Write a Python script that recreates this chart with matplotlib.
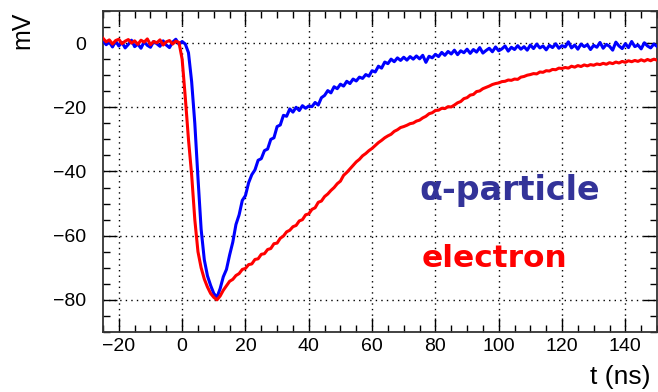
import numpy as np
import matplotlib
matplotlib.use("Agg")
import matplotlib.pyplot as plt
from matplotlib.ticker import MultipleLocator

# time axis, 1 ns samples
t_ns = np.arange(-25, 151)

# alpha-particle pulse (mV)
alpha_mv = [
    0.8, -0.5, 0.3, -1.2, 0.6, -0.9, 0.2, -1.5, -0.4, 0.9, -1.1, -0.3, -1.6,
    0.4, -0.7, -1.3, 0.5, -0.2, -1.0, 0.7, -0.6, -1.4, 0.3, 1.2, -0.4,
    0.5, -0.3, -3.0, -12.0, -25.0, -42.0, -58.0, -67.5, -72.5, -75.5, -78.0, -79.2,
    -76.5, -72.8, -70.5, -66.0, -62.0, -56.5, -53.5, -49.0, -47.5, -43.5,
    -41.0, -39.5, -36.5, -36.0, -33.5, -33.0, -30.0, -29.5, -26.0, -25.5,
    -22.5, -22.8, -20.5, -21.5, -20.0, -21.0, -19.5, -20.3, -19.6,
    -19.8, -18.5, -19.3, -17.0, -16.3, -14.8, -15.5, -13.6, -14.2, -12.8,
    -13.4, -11.9, -12.6, -11.2, -11.8, -10.6, -11.0, -9.8, -10.3, -8.6,
    -9.0, -7.2, -7.8, -5.9, -6.4, -5.0, -5.8, -4.6, -5.4, -4.4,
    -5.3, -4.2, -5.0, -4.0, -4.9, -3.8, -6.0, -4.1, -4.6, -3.5,
    -4.2, -2.9, -3.8, -2.6, -3.4, -2.2, -3.6, -2.4, -3.0, -1.9,
    -3.2, -2.0, -2.8, -1.4, -3.1, -2.3, -1.6, -2.7, -1.2, -2.4,
    -1.8, -0.9, -2.5, -1.3, -2.0, -0.8, -1.9, -1.1, -2.2, -0.6,
    -1.7, -0.3, -1.5, -0.9, -2.1, -0.7, -1.4, -0.2, -1.6, -0.8,
    -1.2, 0.4, -1.5, -0.6, -1.9, -0.3, -1.1, -0.5, -2.0, -0.7,
    -1.3, 0.2, -1.6, -0.4, -1.0, -2.2, 0.3, -0.9, -1.7, -0.2,
    -1.4, 0.5, -1.1, -0.6, -1.8, 0.1, -0.9, -1.5, -0.3, -1.0,
]

# electron pulse (mV)
electron_mv = [
    1.5, 0.4, 1.0, -0.3, 0.8, 1.2, -0.2, 0.6, 1.1, 0.0, 0.7, -0.4, 0.9,
    0.3, 1.3, -0.5, 0.5, 0.1, 1.0, -0.6, 0.4, 0.8, -0.3, 0.6, 0.2,
    -5.0, -17.0, -30.0, -41.0, -55.0, -65.0, -70.0, -73.5, -76.0, -78.0, -79.2, -80.0,
    -78.8, -77.0, -75.6, -74.2, -73.6, -72.4, -71.8, -70.5, -70.2, -69.0,
    -68.8, -67.4, -67.2, -65.8, -65.6, -64.3, -64.0, -62.5, -62.3, -60.8,
    -60.1, -58.8, -58.3, -57.2, -56.8, -55.4, -55.0, -53.5, -53.2,
    -51.8, -51.3, -49.6, -49.2, -47.8, -47.0, -45.9, -45.0, -43.8, -43.0,
    -41.2, -40.3, -39.2, -38.1, -37.0, -36.2, -35.1, -34.4, -33.5, -32.8,
    -31.9, -31.0, -30.3, -29.5, -28.9, -28.4, -27.5, -27.0, -26.3, -26.0,
    -25.6, -25.1, -24.9, -24.3, -24.0, -23.3, -22.8, -22.0, -21.7, -21.0,
    -20.9, -20.3, -20.4, -19.8, -19.9, -19.3, -18.6, -18.2, -17.3, -17.0,
    -16.2, -16.0, -15.1, -14.9, -14.2, -13.8, -13.4, -12.9, -12.6, -12.4,
    -12.0, -11.9, -11.5, -11.6, -11.2, -11.3, -10.6, -10.4, -10.0, -9.8,
    -9.5, -9.6, -9.0, -9.1, -8.6, -8.7, -8.2, -8.3, -7.8, -7.9,
    -7.6, -7.8, -7.2, -7.5, -7.0, -7.3, -6.8, -7.1, -6.7, -6.9,
    -6.5, -6.7, -6.3, -6.6, -6.1, -6.4, -5.9, -6.2, -5.7, -6.0,
    -5.5, -5.8, -5.4, -5.7, -5.2, -5.6, -5.1, -5.5, -5.0, -5.3,
]

plt.rcParams['font.family'] = ['Liberation Sans', 'DejaVu Sans']

fig = plt.figure(figsize=(6.58, 3.92), dpi=100)
ax = fig.add_axes([103 / 658, 1 - 332 / 392, 554 / 658, 321 / 392])

ax.plot(t_ns, alpha_mv, color='#0000ff', lw=2.2, zorder=3)
ax.plot(t_ns, electron_mv, color='#ff0000', lw=2.2, zorder=4)

ax.set_xlim(-25, 150)
ax.set_ylim(-90, 10)
ax.xaxis.set_major_locator(MultipleLocator(20))
ax.xaxis.set_minor_locator(MultipleLocator(5))
ax.yaxis.set_major_locator(MultipleLocator(20))
ax.yaxis.set_minor_locator(MultipleLocator(5))
ax.tick_params(which='both', direction='in', top=True, right=True,
               width=1.0, color='black')
ax.tick_params(which='major', length=10, labelsize=14)
ax.tick_params(which='minor', length=5)
ax.tick_params(axis='x', which='major', pad=4)
ax.tick_params(axis='y', which='major', pad=12)
ax.grid(True, which='major', color='black', ls=(0, (1, 3)), lw=1.0)
for s in ax.spines.values():
    s.set_linewidth(1.3)
    s.set_color('#333333')

fig.text(22 / 658, 1 - 30 / 392, 'mV', rotation=90, ha='center',
         va='center', fontsize=18)
fig.text(620 / 658, 1 - 377 / 392, 't (ns)', ha='center', va='center',
         fontsize=19)

ax.text(75.0, -45.8, 'α-particle', color='#333399', fontsize=24,
        fontweight='bold', family='DejaVu Sans', ha='left', va='center')
ax.text(75.5, -67.2, 'electron', color='#ff0000', fontsize=22.5,
        fontweight='bold', family='DejaVu Sans', ha='left', va='center')

fig.savefig('out.png', dpi=100)
